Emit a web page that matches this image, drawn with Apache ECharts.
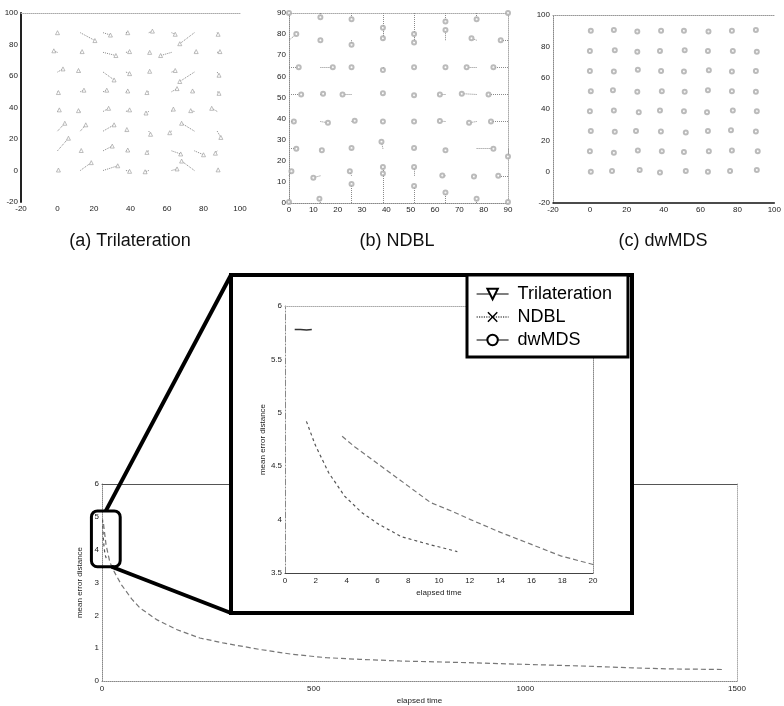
<!DOCTYPE html>
<html><head><meta charset="utf-8">
<script src="https://cdn.jsdelivr.net/npm/echarts@6/dist/echarts.min.js"></script>
<style>html,body{margin:0;padding:0;background:#fff}#c{width:784px;height:706px}</style>
</head><body><div id="c"></div>
<script>
// ---------- data ----------
// (a) Trilateration: true grid positions and estimated positions (row-major, from y=0 upward)
const gridA = [0, 12.5, 25, 37.5, 50, 62.5, 75, 87.5];
const aEstX = [
  0.5, 18.5, 33, 39.5, 48, 65.5, 68, 88,
  6, 13, 30, 38.5, 49, 67.5, 80, 86.5,
  4, 15.5, 31, 38, 51, 61.5, 68, 89.5,
  1, 11.5, 28, 39.5, 48.5, 63.5, 73, 84.5,
  0.5, 14.5, 27, 38.5, 49, 65.5, 74, 88.5,
  3, 11.5, 31, 39.5, 50.5, 64.5, 67, 88.5,
  -2, 13.5, 32, 39.5, 50.5, 56.5, 76, 89,
  0, 20.5, 29, 38.5, 52, 64.5, 67, 88];
const aEstY = [
  0.3, 5, 3, -0.5, -0.8, 1, 6, 0.4,
  20.5, 12.7, 15.5, 13, 11.5, 10.5, 10, 11,
  30, 29, 29, 26, 23, 24, 30, 21,
  38.5, 38, 39.5, 38.5, 36.5, 39, 38, 39.5,
  49.5, 51, 51, 50.5, 49.5, 52, 50.5, 49,
  64.5, 63.5, 57.5, 61.5, 63, 63.5, 56.5, 60.5,
  76, 75.5, 73, 75.5, 75, 73, 75.5, 75.5,
  87.5, 82.5, 86, 87.5, 88.5, 86.5, 80.5, 86.5];

// (b) NDBL
const gridB = [0, 12.9, 25.7, 38.6, 51.4, 64.3, 77.1, 90];
const bEstX = [
  0, 12.5, 25.7, 38.6, 51.4, 64.3, 77.1, 90,
  1, 10, 25, 38.6, 51.4, 63, 76, 86,
  3, 13.5, 25.7, 38, 51.4, 64.3, 84, 90,
  2, 16, 27, 38.6, 51.4, 62, 74, 83,
  5, 14, 22, 38.6, 51.4, 62, 71, 82,
  4, 18, 25.7, 38.6, 51.4, 64.3, 73, 84,
  3, 12.9, 25.7, 38.6, 51.4, 64.3, 75, 87,
  0, 12.9, 25.7, 38.6, 51.4, 64.3, 77.1, 90];
const bEstY = [
  0.5, 2, 9, 17, 8, 5, 2, 0.5,
  15, 12, 15, 14, 17, 13, 12.5, 12.9,
  25.7, 25, 26, 29, 26, 25, 25.7, 22,
  38.6, 38, 39, 38.6, 38.6, 38.8, 38, 38.6,
  51.4, 51.8, 51.4, 52, 51, 51.4, 51.8, 51.4,
  64.3, 64.3, 64.3, 63, 64.3, 64.3, 64.3, 64.3,
  80, 77.1, 75, 83, 80, 82, 78, 77.1,
  90, 88, 87, 78, 76, 86, 87, 90];

// (c) dwMDS
const gridC = [0, 12.9, 25.7, 38.6, 51.4, 64.3, 77.1, 90];
const cEstX = [
  0.5, 12, 27, 38, 52, 64, 76, 90.5,
  0, 13, 26, 39, 51, 64.5, 77, 91,
  0.5, 13.5, 25, 38.5, 52, 64, 76.5, 90,
  0, 13, 26.5, 38, 51, 63.5, 77.5, 90.5,
  0.5, 12.5, 25.7, 39, 51.4, 64, 77, 90,
  0, 13, 26, 38.6, 51, 64.5, 77, 90,
  0, 13.5, 25.7, 38, 51.4, 64, 77.5, 90.5,
  0.5, 13, 25.7, 38.6, 51, 64.3, 77, 90];
const cEstY = [
  0, 0.5, 1, -0.5, 0.5, 0, 0.5, 1,
  13, 12, 13.5, 13, 12.5, 13, 13.5, 13,
  26, 25.5, 26, 25.7, 25, 26, 26.5, 25.7,
  38.6, 39, 38, 39, 38.6, 38, 39, 38.6,
  51.4, 52, 51, 51.4, 51, 52, 51.4, 51,
  64.3, 64, 65, 64.3, 64, 64.8, 64, 64.3,
  77.1, 77.5, 76.5, 77, 77.5, 77.1, 77, 76.5,
  90, 90.5, 89.5, 90, 90, 89.5, 90, 90.5];

// main chart: mean error distance vs elapsed time
const triTime = [0.63, 1.0, 1.4, 1.74];
const triErr  = [5.78, 5.78, 5.775, 5.78];
const ndblTime = [1.39, 1.96, 2.83, 3.87, 4.95, 6.04, 7.56, 9.3, 11.19];
const ndblErr  = [4.92, 4.70, 4.44, 4.22, 4.07, 3.96, 3.84, 3.77, 3.70];
const dwTime = [3.71, 4.54, 6.06, 8.23, 9.45, 10.97, 12.05, 14.0, 15.96, 17.9, 20.0,
  30, 46, 70, 90, 129, 176, 231, 286, 373, 451, 530, 608, 703, 860, 1017, 1150, 1253, 1333, 1465];
const dwErr = [4.78, 4.68, 4.52, 4.29, 4.16, 4.07, 4.0, 3.88, 3.77, 3.66, 3.58,
  3.3, 2.93, 2.5, 2.22, 1.87, 1.57, 1.31, 1.16, 0.96, 0.81, 0.71, 0.66, 0.61, 0.56, 0.5, 0.45, 0.4, 0.37, 0.35];

const captions = ['(a) Trilateration', '(b) NDBL', '(c) dwMDS'];
const seriesNames = ['Trilateration', 'NDBL', 'dwMDS'];

// ---------- helpers ----------
const FONT = "'Liberation Sans', Arial, sans-serif";
const pairs = (xs, ys) => xs.map((x, i) => [x, ys[i]]);
function nodes(g) { const o = []; for (let j = 0; j < 8; j++) for (let i = 0; i < 8; i++) o.push([g[i], g[j]]); return o; }
function segs(g, ex, ey) { return nodes(g).map((p, k) => ({ coords: [p, [ex[k], ey[k]]] })); }

const plainNum = v => String(v);
function labAxis(o) {
  return Object.assign({
    type: 'value', splitLine: { show: false }, axisTick: { show: false },
    axisLabel: { fontSize: 8, color: '#222', fontFamily: FONT, margin: 3, formatter: plainNum }
  }, o);
}
function frameAxis(o) {
  return Object.assign({
    type: 'value', splitLine: { show: false }, axisTick: { show: false }, axisLabel: { show: false }
  }, o);
}
const dotted = (c, w) => ({ show: true, onZero: false, lineStyle: { color: c || '#999', width: w || 1, type: 'dotted' } });
const solid = (c, w) => ({ show: true, onZero: false, lineStyle: { color: c || '#000', width: w || 1, type: 'solid' } });
const noLine = { show: false, onZero: false };

const SYM_TRI = 'path://M0,0L10,0L5,9Z';
const SYM_X = 'path://M0,1L1,0L5,4L9,0L10,1L6,5L10,9L9,10L5,6L1,10L0,9L4,5Z';

function scatterPlot(g, ex, ey, xi, yi, sym, itemStyle) {
  return [
    { type: 'lines', coordinateSystem: 'cartesian2d', xAxisIndex: xi, yAxisIndex: yi,
      data: segs(g, ex, ey), lineStyle: { color: '#8a8a8a', width: 1, type: 'dotted', opacity: 1 },
      silent: true, z: 2 },
    { type: 'scatter', xAxisIndex: xi, yAxisIndex: yi, data: pairs(ex, ey), symbol: sym, symbolSize: 4,
      itemStyle, silent: true, z: 3 }
  ];
}

const styles = {
  Trilateration: { lineStyle: { color: '#333', width: 1.5, type: 'solid' }, symbol: SYM_TRI,
    itemStyle: { color: '#fff', borderColor: '#000', borderWidth: 1 } },
  NDBL: { lineStyle: { color: '#555', width: 1.2, type: [3, 3] }, symbol: SYM_X,
    itemStyle: { color: '#000' } },
  dwMDS: { lineStyle: { color: '#777', width: 1.2, type: [5, 3] }, symbol: 'emptyCircle',
    itemStyle: { color: '#000' } }
};
function lineSeries(name, xs, ys, xi, yi, z) {
  const s = styles[name];
  return { type: 'line', name, xAxisIndex: xi, yAxisIndex: yi, data: pairs(xs, ys), showSymbol: false,
    symbol: s.symbol, symbolSize: 8, lineStyle: s.lineStyle, itemStyle: s.itemStyle, z, silent: true, animation: false };
}

// ---------- option ----------
const option = {
  animation: false,
  backgroundColor: '#fff',
  textStyle: { fontFamily: FONT },
  grid: [
    { left: 21, top: 13, width: 219, height: 189 },
    { left: 289, top: 13, width: 219, height: 190 },
    { left: 553, top: 15, width: 224, height: 188 },
    { left: 102, top: 484, width: 635, height: 198 },
    { left: 285, top: 306, width: 308, height: 267, z: 20 }
  ],
  xAxis: [
    labAxis({ gridIndex: 0, min: -20, max: 100, interval: 20, axisLine: noLine }),
    frameAxis({ gridIndex: 0, position: 'top', min: -20, max: 100, axisLine: dotted('#aaa') }),
    labAxis({ gridIndex: 1, min: 0, max: 90, interval: 10, axisLine: dotted('#888') }),
    frameAxis({ gridIndex: 1, position: 'top', min: 0, max: 90, axisLine: dotted('#aaa') }),
    labAxis({ gridIndex: 2, min: -20, max: 100, interval: 20, axisLine: solid('#111', 1.5) }),
    frameAxis({ gridIndex: 2, position: 'top', min: -20, max: 100, axisLine: dotted('#999') }),
    labAxis({ gridIndex: 3, min: 0, max: 1500, interval: 500, axisLine: dotted('#888'),
      name: 'elapsed time', nameLocation: 'middle', nameGap: 16,
      nameTextStyle: { fontSize: 8, color: '#222', fontFamily: FONT },
      axisLabel: { fontSize: 8, color: '#222', fontFamily: FONT, margin: 4, formatter: plainNum } }),
    frameAxis({ gridIndex: 3, position: 'top', min: 0, max: 1500, axisLine: solid('#555', 1) }),
    labAxis({ gridIndex: 4, min: 0, max: 20, interval: 2, axisLine: solid('#444', 1), z: 20,
      name: 'elapsed time', nameLocation: 'middle', nameGap: 16,
      nameTextStyle: { fontSize: 8, color: '#222', fontFamily: FONT },
      axisLabel: { fontSize: 8, color: '#222', fontFamily: FONT, margin: 4, formatter: plainNum } }),
    frameAxis({ gridIndex: 4, position: 'top', min: 0, max: 20, axisLine: dotted('#aaa'), z: 20 })
  ],
  yAxis: [
    labAxis({ gridIndex: 0, min: -20, max: 100, interval: 20, axisLine: solid('#222', 2) }),
    labAxis({ gridIndex: 1, min: 0, max: 90, interval: 10, axisLine: dotted('#888') }),
    frameAxis({ gridIndex: 1, position: 'right', min: 0, max: 90, axisLine: dotted('#aaa') }),
    labAxis({ gridIndex: 2, min: -20, max: 100, interval: 20, axisLine: dotted('#888') }),
    labAxis({ gridIndex: 3, min: 0, max: 6, interval: 1, axisLine: dotted('#888'),
      name: 'mean error distance', nameLocation: 'middle', nameGap: 10,
      nameTextStyle: { fontSize: 8, color: '#222', fontFamily: FONT } }),
    frameAxis({ gridIndex: 3, position: 'right', min: 0, max: 6, axisLine: dotted('#aaa') }),
    labAxis({ gridIndex: 4, min: 3.5, max: 6, interval: 0.5,
      axisLine: { show: true, onZero: false, lineStyle: { color: '#888', width: 1, type: [6, 2, 1, 2] } }, z: 20,
      name: 'mean error distance', nameLocation: 'middle', nameGap: 16,
      nameTextStyle: { fontSize: 8, color: '#222', fontFamily: FONT } }),
    frameAxis({ gridIndex: 4, position: 'right', min: 3.5, max: 6, axisLine: dotted('#888'), z: 20 })
  ],
  legend: {
    data: seriesNames.map(n => ({ name: n, lineStyle: { type: n === 'NDBL' ? 'dotted' : 'solid', color: '#000', width: 1.2 } })),
    orient: 'vertical', left: 467, top: 275, itemWidth: 32, itemHeight: 13, itemGap: 5,
    padding: [10, 16, 8, 9], backgroundColor: '#fff', borderColor: '#000', borderWidth: 3, borderRadius: 0,
    textStyle: { fontSize: 18, color: '#000', fontFamily: FONT, lineHeight: 18, padding: [0, 0, 0, 4] },
    selectedMode: false, z: 40
  },
  series: [
    ...scatterPlot(gridA, aEstX, aEstY, 0, 0, 'triangle', { color: '#fff', borderColor: '#999', borderWidth: 0.8 }),
    ...scatterPlot(gridB, bEstX, bEstY, 2, 1, 'emptyCircle', { color: '#aaa', borderWidth: 0.8 }),
    ...scatterPlot(gridC, cEstX, cEstY, 4, 3, 'emptyCircle', { color: '#aaa', borderWidth: 0.8 }),
    lineSeries('Trilateration', triTime, triErr, 6, 4, 2),
    lineSeries('NDBL', ndblTime, ndblErr, 6, 4, 2),
    lineSeries('dwMDS', dwTime, dwErr, 6, 4, 2),
    lineSeries('Trilateration', triTime, triErr, 8, 6, 25),
    lineSeries('NDBL', ndblTime, ndblErr, 8, 6, 25),
    lineSeries('dwMDS', dwTime, dwErr, 8, 6, 25)
  ]
};

const chart = echarts.init(document.getElementById('c'));
chart.setOption(option);

// zoom box around the early part of the main curves (data window), and the inset frame
const fnd = { xAxisIndex: 6, yAxisIndex: 4 };
const p1 = chart.convertToPixel(fnd, [-25, 5.18]);
const p2 = chart.convertToPixel(fnd, [43, 3.48]);
const bx = p1[0], by = p1[1], bw = p2[0] - p1[0], bh = p2[1] - p1[1];
const inset = { x: 231, y: 275, w: 401, h: 338 };
const capY = 241;
const capFont = "18px 'Liberation Sans', Arial, sans-serif";
chart.setOption({
  graphic: [
    { type: 'rect', z: 10, shape: { x: inset.x, y: inset.y, width: inset.w, height: inset.h },
      style: { fill: '#fff', stroke: '#000', lineWidth: 4 } },
    { type: 'rect', z: 12, shape: { x: bx, y: by, width: bw, height: bh, r: 6 },
      style: { fill: 'none', stroke: '#000', lineWidth: 3 } },
    { type: 'line', z: 12, shape: { x1: bx + bw * 0.5, y1: by, x2: inset.x, y2: inset.y },
      style: { stroke: '#000', lineWidth: 4 } },
    { type: 'line', z: 12, shape: { x1: bx + bw * 0.7, y1: by + bh, x2: inset.x, y2: inset.y + inset.h },
      style: { stroke: '#000', lineWidth: 4 } },
    { type: 'text', z: 12, x: 130, y: capY, style: { text: captions[0], font: capFont, fill: '#111', textAlign: 'center', textVerticalAlign: 'middle' } },
    { type: 'text', z: 12, x: 397, y: capY, style: { text: captions[1], font: capFont, fill: '#111', textAlign: 'center', textVerticalAlign: 'middle' } },
    { type: 'text', z: 12, x: 663, y: capY, style: { text: captions[2], font: capFont, fill: '#111', textAlign: 'center', textVerticalAlign: 'middle' } }
  ]
});
</script>
</body></html>
